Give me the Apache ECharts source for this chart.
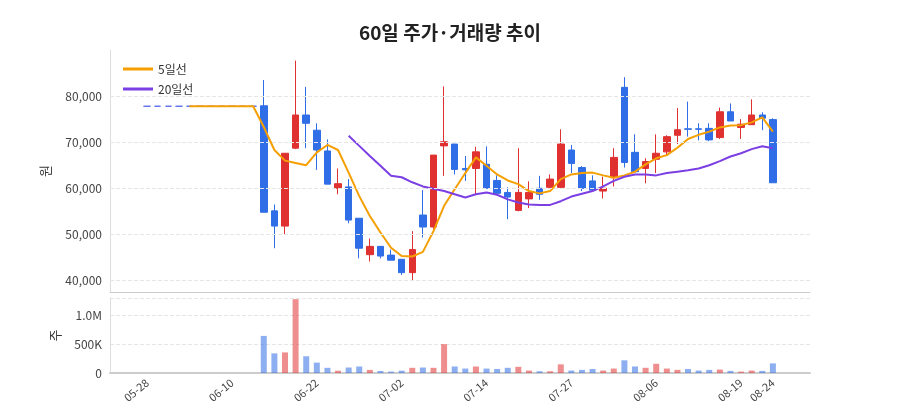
<!DOCTYPE html>
<html>
<head>
<meta charset="utf-8">
<script src="https://cdn.jsdelivr.net/npm/echarts@6/dist/echarts.min.js"></script>
<style>html,body{margin:0;padding:0;background:#fff}#chart{width:900px;height:420px}</style>
</head>
<body>
<div id="chart"></div>
<script>
// 날짜 (거래일)
var dates = ['05-28','05-29','05-30','05-31','06-03','06-04','06-05','06-07','06-10','06-11',
  '06-12','06-13','06-14','06-17','06-19','06-20','06-22','06-24','06-25','06-26',
  '06-27','06-28','06-29','07-01','07-02','07-03','07-04','07-05','07-08','07-09',
  '07-10','07-11','07-14','07-15','07-16','07-17','07-18','07-19','07-24','07-25',
  '07-27','07-28','07-29','07-30','07-31','08-01','08-02','08-05','08-06','08-07',
  '08-08','08-09','08-12','08-13','08-14','08-16','08-19','08-20','08-21','08-24'];
var shownTicks = [0, 8, 16, 24, 32, 40, 48, 56, 59];

// [시가, 종가, 저가, 고가]
var candles = [
  [77800,77800,77800,77800],[77800,77800,77800,77800],[77800,77800,77800,77800],[77800,77800,77800,77800],
  [77800,77800,77800,77800],[77800,77800,77800,77800],[77800,77800,77800,77800],[77800,77800,77800,77800],
  [77800,77800,77800,77800],[77800,77800,77800,77800],[77800,77800,77800,77800],
  [77900,54800,54800,83500],[55100,51800,47000,56500],[51800,67600,50000,67600],[68700,75900,68500,87700],
  [75900,74100,68700,82000],[72600,68300,64000,74100],[68100,60900,60900,70600],[60000,61000,58700,64300],
  [60300,53100,52400,62000],[53500,47000,44800,53500],[45600,47400,44100,49100],[47400,45300,44800,47400],
  [45500,44400,44400,46700],[44600,41700,41200,44600],[41700,46700,40100,50700],[54200,51600,49300,59600],
  [51600,67200,51000,67200],[69200,70100,62700,82100],[69600,64100,63000,69600],[64300,64000,61600,67000],
  [64300,67900,58700,69000],[65200,60000,60000,69100],[61700,58900,58700,62800],[59100,58100,53300,60200],
  [55200,59100,55000,68700],[57700,59100,55700,61500],[60000,58700,57500,62700],[60200,62000,60000,63000],
  [60200,69600,60000,72800],[68300,65400,63300,69400],[64500,60000,59400,64800],[61600,59600,59200,62800],
  [59400,60000,57800,62500],[62300,66700,60400,68700],[81900,65600,64500,84100],[67800,63600,63600,71700],
  [64300,65800,61100,66500],[66300,67600,63300,71700],[67900,71200,67200,71500],[71500,72700,69600,77400],
  [72900,72800,71200,78800],[72900,72800,70400,74100],[73000,70500,70200,74100],[71000,76600,70700,77500],
  [76600,74600,74600,78400],[73200,73900,70700,75000],[73800,75900,73800,79300],[75900,75200,72600,76500],
  [74900,61200,61200,75200]
];

var ma5 = [null,null,null,null,77800,77800,77800,77800,77800,77800,
  77800,73300,68300,66000,65500,65000,67800,69400,68300,63400,
  58300,54000,50400,47100,45300,45200,46200,50700,56200,59800,
  63300,66700,64900,63000,61700,60900,59400,58900,59400,62000,
  63000,63300,63400,62800,62300,62800,63600,65200,66500,67200,
  68800,70700,71600,72300,73200,73600,73700,74300,75400,72300];

var ma20 = [null,null,null,null,null,null,null,null,null,null,
  null,null,null,null,null,null,null,null,null,71400,
  69200,67000,64900,62700,62400,61300,60400,59900,59400,58700,
  58000,58700,59100,58600,57600,56900,56500,56400,56400,57200,
  58200,58800,59400,60400,61600,62500,63000,63000,62800,63300,
  63600,63900,64300,65000,65900,66900,67600,68500,69100,68700];

var volumes = [0,0,0,0,0,0,0,0,0,0,
  0,643000,340000,357000,1280000,290000,180000,90000,40000,95000,
  113000,54000,36000,24000,40000,90000,95000,90000,500000,113000,
  77000,113000,77000,70000,90000,107000,42000,30000,30000,150000,
  42000,54000,70000,42000,77000,220000,113000,90000,160000,77000,
  54000,70000,42000,54000,60000,36000,24000,42000,36000,167000];

var priceLines = [40000, 50000, 60000, 70000, 80000];

var UP = '#e03131', DOWN = '#2f6ee6', FLAT = '#5b6cf0';
var PAD = 3; // 축 양쪽 여백 칸

function pad(arr, fill) {
  var out = [];
  for (var i = 0; i < PAD; i++) out.push(fill);
  out = out.concat(arr);
  for (var j = 0; j < PAD; j++) out.push(fill);
  return out;
}

var cats = pad(dates, '');
var tickIdx = shownTicks.map(function (i) { return i + PAD; });
function isTick(i) { return tickIdx.indexOf(i) >= 0; }

var candleData = pad(candles.map(function (c) {
  if (c[0] === c[1]) return { value: c, itemStyle: { color: FLAT, borderColor: FLAT, color0: FLAT, borderColor0: FLAT } };
  return c;
}), '-');

var volData = pad(volumes.map(function (v, i) {
  var c = candles[i];
  var col = c[1] > c[0] ? UP : c[1] < c[0] ? DOWN : FLAT;
  return { value: v, itemStyle: { color: col, opacity: 0.55 } };
}), null);

var chart = echarts.init(document.getElementById('chart'));
var font = 'Noto Sans CJK KR';
chart.setOption({
  animation: false,
  textStyle: { fontFamily: font },
  title: {
    text: '60일 주가·거래량 추이', left: 'center', top: 18,
    textStyle: { fontSize: 19, fontWeight: 'bold', color: '#222', fontFamily: font }
  },
  legend: {
    orient: 'vertical', left: 118, top: 58, itemGap: 8, itemWidth: 30, itemHeight: 3,
    textStyle: { fontSize: 12, color: '#333' },
    data: [{ name: '5일선', icon: 'rect' }, { name: '20일선', icon: 'rect' }]
  },
  grid: [
    { left: 110, right: 90, top: 50, height: 242 },
    { left: 110, right: 90, top: 298, height: 75 }
  ],
  xAxis: [
    { type: 'category', data: cats, gridIndex: 0, boundaryGap: true,
      axisLine: { lineStyle: { color: '#ccc' } },
      axisTick: { alignWithLabel: true, interval: isTick, length: 5, lineStyle: { color: '#555' } },
      axisLabel: { show: false } },
    { type: 'category', data: cats, gridIndex: 1, boundaryGap: true,
      axisLine: { lineStyle: { color: '#ccc', width: 2 } },
      axisTick: { alignWithLabel: true, interval: isTick, lineStyle: { color: '#555' } },
      axisLabel: { rotate: 40, color: '#444', fontSize: 11, interval: isTick } }
  ],
  yAxis: [
    { type: 'value', gridIndex: 0, min: 37500, max: 90000, interval: 2500,
      name: '원', nameLocation: 'middle', nameGap: 58, nameRotate: 90, nameTextStyle: { fontSize: 13, color: '#333' },
      axisLine: { show: true, lineStyle: { color: '#ddd' } },
      axisLabel: { color: '#444', fontSize: 12, formatter: function (v) { return (v % 10000 === 0 && v < 90000) ? v.toLocaleString('en-US') : ''; } },
      splitLine: { show: false } },
    { type: 'value', gridIndex: 1, min: 0, max: 1300000, interval: 500000,
      name: '주', nameLocation: 'middle', nameGap: 48, nameRotate: 90, nameTextStyle: { fontSize: 13, color: '#333' },
      axisLine: { show: true, lineStyle: { color: '#ddd' } },
      axisLabel: { color: '#444', fontSize: 12, formatter: function (v) { return v === 0 ? '0' : v > 1000000 ? '' : v === 1000000 ? '1.0M' : (v / 1000) + 'K'; } },
      splitLine: { lineStyle: { type: 'dashed', color: '#e6e6e6' } } }
  ],
  series: [
    { name: '가격', type: 'candlestick', data: candleData, xAxisIndex: 0, yAxisIndex: 0, barWidth: 7,
      itemStyle: { color: UP, color0: DOWN, borderColor: UP, borderColor0: DOWN },
      markLine: { silent: true, symbol: 'none', label: { show: false },
        lineStyle: { type: 'dashed', color: '#e6e6e6', width: 1 },
        data: priceLines.map(function (v) { return { yAxis: v }; }) } },
    { name: '5일선', type: 'line', data: pad(ma5, null), xAxisIndex: 0, yAxisIndex: 0, showSymbol: false,
      lineStyle: { width: 2, color: '#f59f00' }, itemStyle: { color: '#f59f00' } },
    { name: '20일선', type: 'line', data: pad(ma20, null), xAxisIndex: 0, yAxisIndex: 0, showSymbol: false,
      lineStyle: { width: 2, color: '#7b3fe4' }, itemStyle: { color: '#7b3fe4' } },
    { name: '거래량', type: 'bar', data: volData, xAxisIndex: 1, yAxisIndex: 1, barWidth: 6 }
  ]
});
</script>
</body>
</html>
